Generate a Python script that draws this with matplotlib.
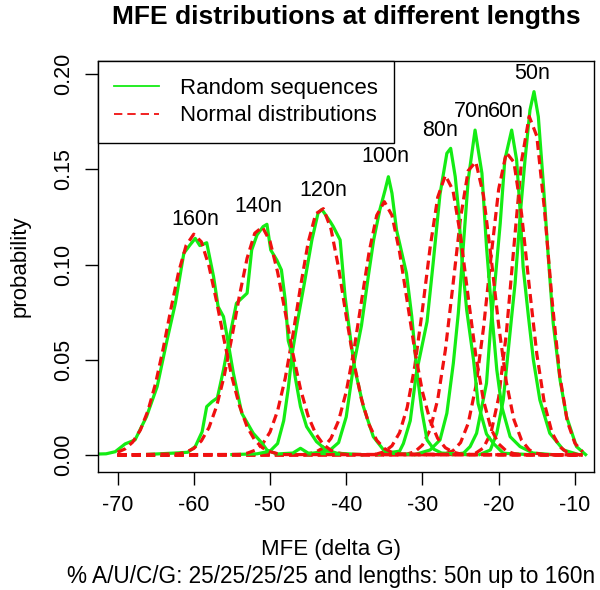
import matplotlib
matplotlib.use("Agg")
import matplotlib.pyplot as plt
from matplotlib.lines import Line2D

plt.rcParams["font.family"] = ["Liberation Sans", "DejaVu Sans"]
plt.rcParams["lines.scale_dashes"] = False

lengths = ["50n", "60n", "70n", "80n", "100n", "120n", "140n", "160n"]

# --- random sequences: MFE density (green) ---
rand_mfe_50 = [-22.5, -21.1, -20.25, -19.4, -18.3, -17.85, -17.2, -16.55, -15.9, -15.37,
               -14.8, -14.15, -13.5, -12.85, -11.95, -11.1, -9.8, -8.6]
rand_p_50 = [0.0002, 0.0026, 0.0114, 0.0289, 0.0727, 0.0902, 0.1252, 0.1550, 0.1812, 0.1909,
             0.1777, 0.1427, 0.1042, 0.0692, 0.0394, 0.0201, 0.0044, 0.0002]

rand_mfe_60 = [-26.0, -24.6, -23.75, -22.9, -21.6, -21.1, -20.5, -19.8, -19.2, -18.3,
               -17.65, -17.2, -16.8, -16.1, -15.45, -14.6, -13.3, -11.5, -9.5]
rand_p_60 = [0.0002, 0.0010, 0.0044, 0.0114, 0.0377, 0.0650, 0.0902, 0.1217, 0.1550, 0.1707,
             0.1550, 0.1287, 0.0989, 0.0727, 0.0499, 0.0289, 0.0114, 0.0026, 0.0002]

rand_mfe_70 = [-31.0, -29.0, -27.7, -26.8, -25.95, -25.3, -24.65, -24.0, -23.1, -22.2,
               -21.6, -20.9, -20.25, -19.6, -18.5, -17.2, -15.5, -13.0]
rand_p_70 = [0.0002, 0.0026, 0.0079, 0.0219, 0.0482, 0.0744, 0.1094, 0.1445, 0.1707, 0.1480,
             0.1094, 0.0744, 0.0447, 0.0254, 0.0096, 0.0044, 0.0010, 0.0002]

rand_mfe_80 = [-36.0, -33.0, -32.5, -31.6, -30.8, -29.4, -28.6, -27.7, -26.8, -26.3,
               -25.7, -25.3, -24.85, -24.2, -23.3, -22.7, -21.6, -20.7, -19.4, -16.0]
rand_p_80 = [0.0002, 0.0020, 0.0060, 0.0180, 0.0430, 0.0700, 0.1007, 0.1370, 0.1585, 0.1611,
             0.1462, 0.1300, 0.1042, 0.0762, 0.0499, 0.0270, 0.0110, 0.0061, 0.0009, 0.0002]

rand_mfe_100 = [-45.0, -42.0, -41.0, -40.0, -39.06, -38.0, -37.1, -36.4, -35.6, -34.9,
                -34.47, -34.0, -33.4, -32.7, -32.1, -31.4, -30.75, -30.1, -29.4, -28.5,
                -27.5, -24.0]
rand_p_100 = [0.0002, 0.0030, 0.0065, 0.0200, 0.0464, 0.0680, 0.0940, 0.1130, 0.1287, 0.1392,
              0.1462, 0.1375, 0.1182, 0.1060, 0.0955, 0.0727, 0.0447, 0.0236, 0.0079, 0.0030,
              0.0010, 0.0002]

rand_mfe_120 = [-55.0, -51.7, -50.0, -49.0, -48.2, -47.6, -47.1, -46.4, -45.5, -44.5,
                -43.7, -43.2, -42.1, -41.7, -40.8, -40.15, -39.3, -38.85, -37.75, -36.45,
                -35.1, -34.2, -31.0]
rand_p_120 = [0.0002, 0.0006, 0.0020, 0.0060, 0.0180, 0.0350, 0.0530, 0.0700, 0.0900, 0.1130,
              0.1270, 0.1290, 0.1226, 0.1200, 0.1130, 0.0832, 0.0569, 0.0447, 0.0254, 0.0096,
              0.0026, 0.0009, 0.0002]

rand_mfe_140 = [-66.0, -62.5, -60.8, -59.8, -58.9, -58.3, -57.6, -56.9, -56.1, -55.2,
                -54.4, -53.0, -52.4, -51.7, -50.9, -50.4, -49.9, -49.1, -48.5, -48.0,
                -47.6, -47.1, -46.7, -46.0, -45.2, -43.9, -42.6, -41.2, -38.0]
rand_p_140 = [0.0003, 0.0010, 0.0014, 0.0044, 0.0122, 0.0254, 0.0280, 0.0300, 0.0447, 0.0639,
              0.0797, 0.0850, 0.1077, 0.1156, 0.1200, 0.1212, 0.1077, 0.1024, 0.0972, 0.0814,
              0.0600, 0.0530, 0.0411, 0.0254, 0.0149, 0.0070, 0.0026, 0.0009, 0.0002]

rand_mfe_160 = [-72.5, -71.5, -70.3, -69.0, -67.7, -66.2, -64.8, -63.5, -62.4, -61.6,
                -61.3, -60.5, -59.8, -59.2, -58.3, -57.4, -56.8, -56.1, -55.7, -54.8,
                -53.7, -52.2, -51.0, -50.4, -49.1, -47.0, -46.0, -45.0, -40.0]
rand_p_160 = [0.0005, 0.0006, 0.0017, 0.0058, 0.0079, 0.0201, 0.0359, 0.0604, 0.0799, 0.0989,
              0.1060, 0.1103, 0.1138, 0.1100, 0.1115, 0.0937, 0.0779, 0.0727, 0.0639, 0.0429,
              0.0219, 0.0114, 0.0060, 0.0026, 0.0005, 0.0010, 0.0035, 0.0010, 0.0003]

# --- fitted normal distributions (red dashed) ---
norm_mfe_50 = [-70, -24, -23, -22, -21, -20, -19, -18, -17, -16, -15, -14, -13, -12, -11, -10, -9]
norm_p_50 = [0, 0.0002, 0.0010, 0.0037, 0.0118, 0.0303, 0.0638, 0.1097, 0.1545, 0.1779,
             0.1675, 0.1290, 0.0813, 0.0420, 0.0176, 0.0061, 0.0017]

norm_mfe_60 = [-70, -28, -27, -26, -25, -24, -23, -22, -21, -20, -19, -18, -17, -16, -15,
               -14, -13, -12, -11, -10, -9]
norm_p_60 = [0, 0.0002, 0.0006, 0.0022, 0.0065, 0.0166, 0.0360, 0.0665, 0.1043, 0.1397,
             0.1589, 0.1538, 0.1267, 0.0889, 0.0530, 0.0269, 0.0116, 0.0043, 0.0013, 0.0004, 0]

norm_mfe_70 = [-70, -33, -32, -31, -30, -29, -28, -27, -26, -25, -24, -23, -22, -21, -20,
               -19, -18, -17, -16, -15, -14, -9]
norm_p_70 = [0, 0.0001, 0.0005, 0.0017, 0.0052, 0.0132, 0.0291, 0.0550, 0.0893, 0.1246,
             0.1494, 0.1540, 0.1364, 0.1039, 0.0680, 0.0383, 0.0185, 0.0077, 0.0027, 0.0008,
             0.0002, 0]

norm_mfe_80 = [-70, -37, -36, -35, -34, -33, -32, -31, -30, -29, -28, -27, -26, -25, -24,
               -23, -22, -21, -20, -19, -18, -17, -9]
norm_p_80 = [0, 0.0001, 0.0005, 0.0017, 0.0048, 0.0117, 0.0250, 0.0468, 0.0765, 0.1089,
             0.1354, 0.1469, 0.1391, 0.1150, 0.0829, 0.0522, 0.0287, 0.0137, 0.0058, 0.0021,
             0.0007, 0.0002, 0]

norm_mfe_100 = [-70, -46, -45, -44, -43, -42, -41, -40, -39, -38, -37, -36, -35, -34, -33,
                -32, -31, -30, -29, -28, -27, -26, -25, -24, -9]
norm_p_100 = [0, 0.0002, 0.0005, 0.0015, 0.0038, 0.0087, 0.0180, 0.0332, 0.0547, 0.0807,
              0.1066, 0.1259, 0.1331, 0.1259, 0.1066, 0.0807, 0.0547, 0.0332, 0.0180, 0.0087,
              0.0038, 0.0015, 0.0005, 0.0002, 0]

norm_mfe_120 = [-70, -54, -53, -52, -51, -50, -49, -48, -47, -46, -45, -44, -43, -42, -41,
                -40, -39, -38, -37, -36, -35, -34, -33, -9]
norm_p_120 = [0, 0.0003, 0.0009, 0.0024, 0.0056, 0.0120, 0.0232, 0.0403, 0.0629, 0.0883,
              0.1115, 0.1267, 0.1294, 0.1188, 0.0983, 0.0729, 0.0488, 0.0293, 0.0159, 0.0077,
              0.0034, 0.0013, 0.0005, 0]

norm_mfe_140 = [-70, -62, -61, -60, -59, -58, -57, -56, -55, -54, -53, -52, -51, -50, -49,
                -48, -47, -46, -45, -44, -43, -42, -41, -40, -9]
norm_p_140 = [0, 0.0006, 0.0015, 0.0034, 0.0074, 0.0144, 0.0256, 0.0416, 0.0618, 0.0838,
              0.1034, 0.1165, 0.1198, 0.1123, 0.0961, 0.0750, 0.0534, 0.0347, 0.0205, 0.0111,
              0.0055, 0.0024, 0.0010, 0.0003, 0]

norm_mfe_160 = [-70, -69, -68, -67, -66, -65, -64, -63, -62, -61, -60, -59, -58, -57, -56,
                -55, -54, -53, -52, -51, -50, -49, -48, -9]
norm_p_160 = [0.0014, 0.0032, 0.0068, 0.0131, 0.0233, 0.0377, 0.0560, 0.0766, 0.0958, 0.1101,
              0.1160, 0.1120, 0.0992, 0.0806, 0.0601, 0.0411, 0.0258, 0.0148, 0.0078, 0.0038,
              0.0017, 0.0007, 0.0002, 0]

# label positions for each length (data coordinates)
label_x = [-15.6, -19.0, -23.5, -27.7, -34.9, -43.0, -51.5, -59.8]
label_y = [0.2005, 0.1804, 0.1804, 0.1707, 0.1566, 0.1387, 0.1303, 0.1235]

x_ticks = [-70, -60, -50, -40, -30, -20, -10]
y_ticks = [0.00, 0.05, 0.10, 0.15, 0.20]

rand_curves = [(rand_mfe_50, rand_p_50), (rand_mfe_60, rand_p_60), (rand_mfe_70, rand_p_70),
               (rand_mfe_80, rand_p_80), (rand_mfe_100, rand_p_100), (rand_mfe_120, rand_p_120),
               (rand_mfe_140, rand_p_140), (rand_mfe_160, rand_p_160)]
norm_curves = [(norm_mfe_50, norm_p_50), (norm_mfe_60, norm_p_60), (norm_mfe_70, norm_p_70),
               (norm_mfe_80, norm_p_80), (norm_mfe_100, norm_p_100), (norm_mfe_120, norm_p_120),
               (norm_mfe_140, norm_p_140), (norm_mfe_160, norm_p_160)]

GREEN = "#14EC14"
RED = "#F01010"
FS = 16
DASH = (6.5, 3.8)

fig = plt.figure(figsize=(6, 5.9), dpi=100)
ax = fig.add_axes([0.1628, 0.2005, 0.8272, 0.6961])

for i, name in enumerate(lengths):
    gx, gy = rand_curves[i]
    nx, ny = norm_curves[i]
    ax.plot(gx, gy, color=GREEN, lw=2.3)
    ax.plot(nx, ny, color=RED, lw=2.3, dashes=DASH)
    ax.text(label_x[i], label_y[i], name, ha="center", va="center", fontsize=15.5)

ax.set_xlim(-72.6, -7.5)
ax.set_ylim(-0.0088, 0.207)
ax.set_xticks(x_ticks)
ax.set_xticklabels([str(v) for v in x_ticks])
ax.set_yticks(y_ticks)
ax.set_yticklabels([f"{v:.2f}" for v in y_ticks], rotation=90, va="center")
ax.tick_params(direction="out", length=9.5, width=1, labelsize=15.5, pad=7.5)
for sp in ax.spines.values():
    sp.set_linewidth(1)

handles = [Line2D([], [], color=GREEN, lw=1.3),
           Line2D([], [], color=RED, lw=1.3, dashes=(6, 3.6))]
leg = ax.legend(handles, ["Random sequences", "Normal distributions"],
                loc="upper left", bbox_to_anchor=(0, 1), borderaxespad=0,
                fontsize=FS, handlelength=2.0, handletextpad=0.95, labelspacing=0.3,
                borderpad=0.75, fancybox=False, framealpha=1, edgecolor="black")
leg.get_frame().set_linewidth(1)

fig.text((0.1628 + 0.99) / 2, 1 - 17 / 590, "MFE distributions at different lengths",
         ha="center", va="center", fontsize=19, fontweight="bold")
fig.text(331 / 600, 1 - 550 / 590, "MFE (delta G)", ha="center", va="center", fontsize=FS)
fig.text(331 / 600, 1 - 576 / 590, "% A/U/C/G: 25/25/25/25 and lengths: 50n up to 160n",
         ha="center", va="center", fontsize=16.3)
fig.text(20 / 600, 1 - 266 / 590, "probability", rotation=90,
         ha="center", va="center", fontsize=FS)

fig.savefig("out.png", dpi=100)
